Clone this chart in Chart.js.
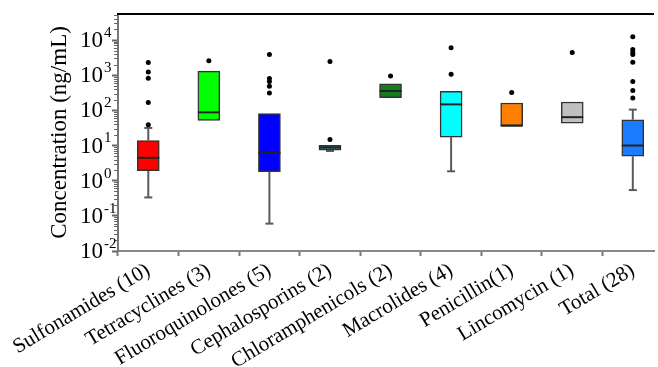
<!DOCTYPE html>
<html><head><meta charset="utf-8">
<script src="https://cdn.jsdelivr.net/npm/chart.js@4/dist/chart.umd.min.js"></script>
<style>html,body{margin:0;padding:0;background:#fff;overflow:hidden}</style>
</head><body>
<canvas id="c" width="658" height="367"></canvas>
<script>
const categories = ['Sulfonamides (10)','Tetracyclines (3)','Fluoroquinolones (5)','Cephalosporins (2)','Chloramphenicols (2)','Macrolides (4)','Penicillin(1)','Lincomycin (1)','Total (28)'];
const q1          = [1.93, 51.8, 1.81, 7.4, 230, 17.3, 36.5, 43.4, 4.95];
const median      = [4.46, 87.7, 6.17, 8.8, 356, 148, 36.5, 64, 10];
const q3          = [13.9, 1300, 80.4, 10.2, 565, 349, 162, 173, 54.2];
const whiskerLow  = [0.334, 51.8, 0.060, 7.0, 230, 1.85, 36.5, 43.4, 0.54];
const whiskerHigh = [31.6, 1300, 80.4, 10.2, 565, 349, 162, 173, 105];
const outliers = [
  [2300, 1240, 820, 166, 39],
  [2570],
  [3900, 800, 660, 485, 312],
  [2460, 14.8],
  [955],
  [6000, 1070],
  [320],
  [4450],
  [12400, 5400, 4450, 3900, 2350, 660, 365, 225]
];
const yTickExponents = [-2, -1, 0, 1, 2, 3, 4];
const boxColors = ['#ff0000','#00ff00','#0000ff','#3f7f8c','#12801a','#00ffff','#ff8000','#c0c0c0','#1a7cff'];

const serif = '"Liberation Serif", "Times New Roman", serif';

const boxData = categories.map((c, i) => ({x: i, y: [q1[i], q3[i]]}));
const outlierData = [];
outliers.forEach((arr, i) => arr.forEach(v => outlierData.push({x: i, y: v})));

const extras = {
  id: 'boxExtras',
  beforeDatasetsDraw(chart) {
    const ctx = chart.ctx, xs = chart.scales.x, ys = chart.scales.y;
    ctx.save();
    ctx.strokeStyle = '#5a5a5a';
    ctx.lineWidth = 2;
    categories.forEach((c, i) => {
      const x = xs.getPixelForValue(i);
      const segs = [];
      if (whiskerLow[i] < q1[i]) segs.push([whiskerLow[i], q1[i]]);
      if (whiskerHigh[i] > q3[i]) segs.push([whiskerHigh[i], q3[i]]);
      segs.forEach(([a, b]) => {
        const ya = ys.getPixelForValue(a), yb = ys.getPixelForValue(b);
        ctx.beginPath(); ctx.moveTo(x, ya); ctx.lineTo(x, yb); ctx.stroke();
        ctx.beginPath(); ctx.moveTo(x - 4, ya); ctx.lineTo(x + 4, ya); ctx.stroke();
      });
    });
    ctx.restore();
  },
  afterDatasetsDraw(chart) {
    const ctx = chart.ctx, xs = chart.scales.x, ys = chart.scales.y;
    const meta = chart.getDatasetMeta(0);
    ctx.save();
    ctx.strokeStyle = '#222';
    ctx.lineWidth = 2;
    categories.forEach((c, i) => {
      const el = meta.data[i];
      const half = el.width / 2;
      const x = xs.getPixelForValue(i);
      const y = ys.getPixelForValue(median[i]);
      ctx.beginPath(); ctx.moveTo(x - half, y); ctx.lineTo(x + half, y); ctx.stroke();
    });
    ctx.restore();
  },
  afterDraw(chart) {
    const ctx = chart.ctx, ys = chart.scales.y, a = chart.chartArea;
    ctx.save();
    // top frame line
    ctx.strokeStyle = '#000';
    ctx.lineWidth = 2;
    ctx.beginPath(); ctx.moveTo(a.left - 1, a.top); ctx.lineTo(a.right, a.top); ctx.stroke();
    // minor ticks
    ctx.strokeStyle = '#666';
    ctx.lineWidth = 1;
    for (let e = yTickExponents[0]; e <= yTickExponents[yTickExponents.length - 1] + 1; e++) {
      for (let k = 2; k <= 9; k++) {
        const v = k * Math.pow(10, e);
        if (v > ys.max || v < ys.min) continue;
        const y = Math.round(ys.getPixelForValue(v)) + 0.5;
        ctx.beginPath(); ctx.moveTo(a.left - 4, y); ctx.lineTo(a.left, y); ctx.stroke();
      }
    }
    // y tick labels 10^n
    ctx.fillStyle = '#000';
    yTickExponents.forEach(e => {
      const y = ys.getPixelForValue(Math.pow(10, e));
      ctx.font = '23px ' + serif;
      ctx.textAlign = 'right';
      ctx.textBaseline = 'middle';
      ctx.fillText('10', a.left - 15, y + 1);
      ctx.font = '15px ' + serif;
      ctx.textAlign = 'left';
      ctx.fillText(e < 0 ? '-' + Math.abs(e) : String(e), a.left - 14, y - 7);
    });
    ctx.restore();
  }
};

new Chart(document.getElementById('c'), {
  type: 'bar',
  data: {
    datasets: [
      {
        type: 'bar',
        data: boxData,
        backgroundColor: boxColors,
        borderColor: '#333',
        borderWidth: 1.5,
        borderSkipped: false,
        barThickness: 22,
        order: 2
      },
      {
        type: 'scatter',
        data: outlierData,
        backgroundColor: '#000',
        borderColor: '#000',
        pointRadius: 2.5,
        borderWidth: 0,
        order: 1
      }
    ]
  },
  options: {
    responsive: false,
    devicePixelRatio: 1,
    animation: false,
    layout: {padding: {top: 14, right: 0, left: 0, bottom: 0}},
    plugins: {legend: {display: false}, tooltip: {enabled: false}},
    scales: {
      x: {
        type: 'linear',
        min: -0.5,
        max: 8.35,
        offset: false,
        afterBuildTicks: s => { s.ticks = categories.map((c, i) => ({value: i})); },
        afterFit: s => { s.height = 116; },
        ticks: {
          autoSkip: false,
          minRotation: 31,
          maxRotation: 31,
          padding: 2,
          color: '#000',
          font: {family: serif, size: 21},
          callback: v => categories[Math.round(v)]
        },
        grid: {display: true, drawOnChartArea: false, drawTicks: true, tickLength: 5, tickColor: '#777', tickWidth: 2},
        border: {display: true, color: '#888', width: 2}
      },
      y: {
        type: 'logarithmic',
        min: 0.01,
        max: 55000,
        afterBuildTicks: s => { s.ticks = yTickExponents.map(e => ({value: Math.pow(10, e), major: true})); },
        afterFit: s => { s.width = 118; },
        ticks: {callback: () => '', color: '#000'},
        grid: {display: true, drawOnChartArea: false, drawTicks: true, tickLength: 6, tickColor: '#666', tickWidth: 2},
        border: {display: true, color: '#777', width: 2},
        title: {display: true, text: 'Concentration (ng/mL)', color: '#000', font: {family: serif, size: 23}, padding: {top: 46, bottom: 0}}
      }
    }
  },
  plugins: [extras]
});
</script>
</body></html>
